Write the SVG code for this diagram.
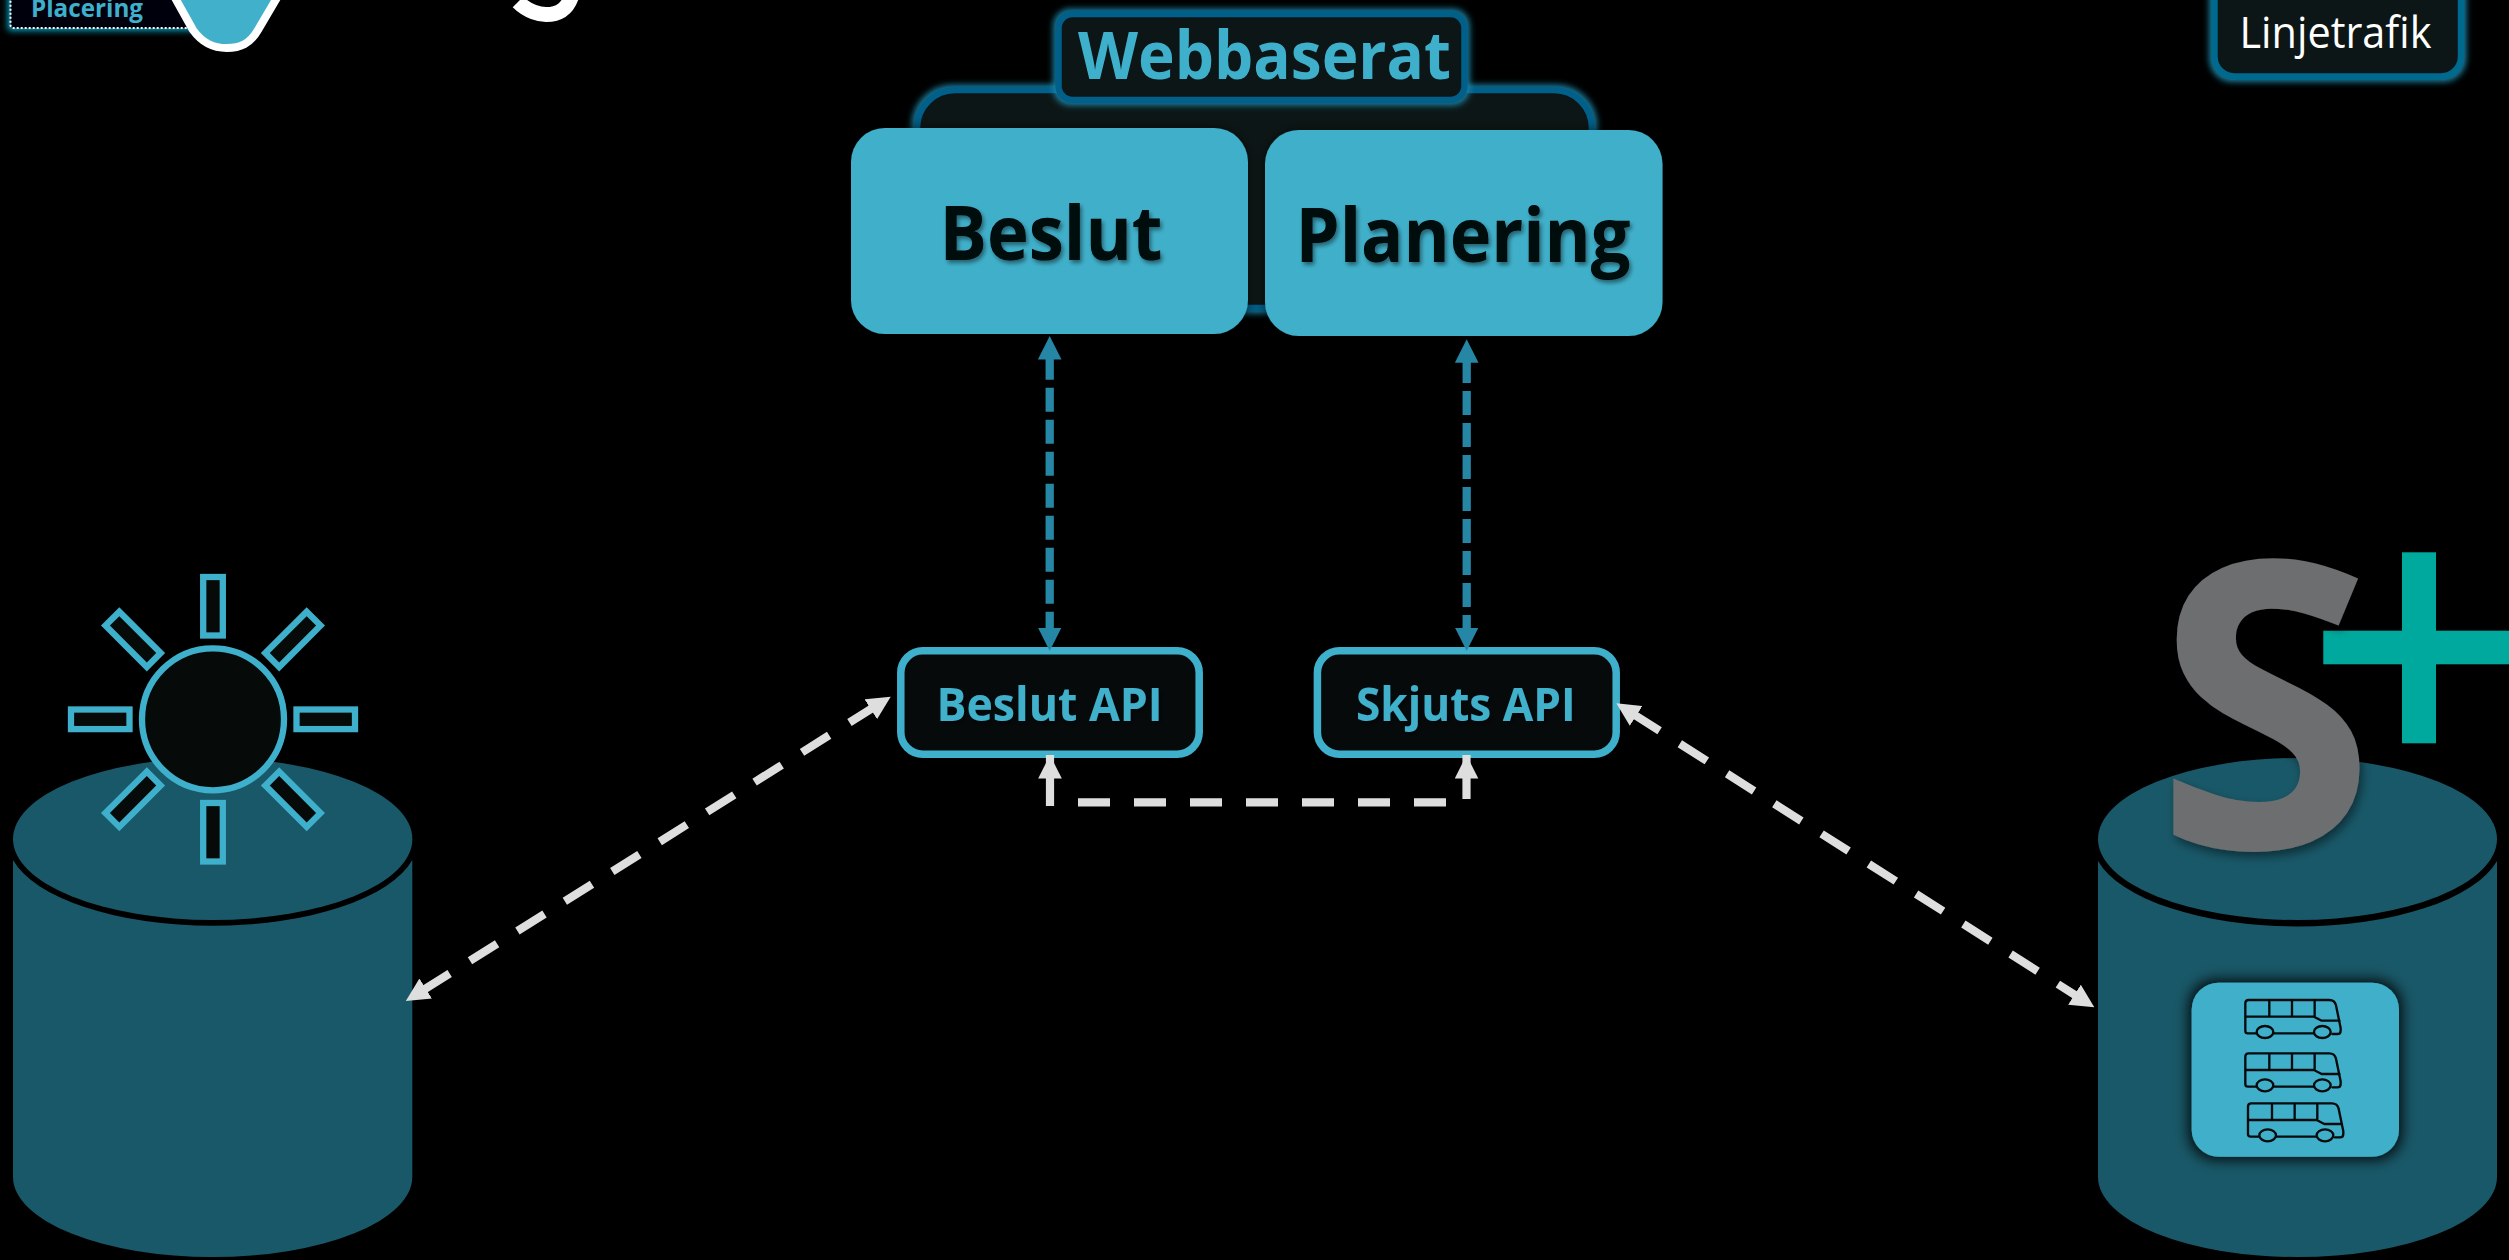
<svg xmlns="http://www.w3.org/2000/svg" width="2509" height="1260" viewBox="0 0 2509 1260">
<style>
text{font-family:"Open Sans","Noto Sans","Liberation Sans",sans-serif}
.b{font-weight:700}
.panel{fill:#3fb0ca}
.api{fill:#070a0b;stroke:#3fb0cb;stroke-width:7.5}
.apit{fill:#3fb0cb;font-size:47px;font-weight:700}
.frame{fill:#0e1218;stroke:#00618a;stroke-width:6.5;filter:url(#glow)}
.cyl{fill:#195868}
.ray{fill:#060a09;stroke:#3fb0cb;stroke-width:6.3}
.wd{fill:none;stroke:#dedede;stroke-width:8.200;stroke-dasharray:32 24}
.bd{fill:none;stroke:#2686a5;stroke-width:8.3;stroke-dasharray:24 8;stroke-dashoffset:26.3}
.st{fill:none;stroke:#dedede;stroke-width:8.200}
.bus{fill:none;stroke:#050a0c;stroke-width:7;stroke-linejoin:round;stroke-linecap:round}
</style>
<defs>
<filter id="glow" x="-10%" y="-30%" width="120%" height="160%">
<feMorphology in="SourceAlpha" operator="dilate" radius="2" result="d"/>
<feGaussianBlur in="d" stdDeviation="3" result="bl"/>
<feFlood flood-color="#1d86a8" flood-opacity=".95"/>
<feComposite in2="bl" operator="in" result="g"/>
<feMerge><feMergeNode in="g"/><feMergeNode in="SourceGraphic"/></feMerge>
</filter>
<filter id="glow2" x="-15%" y="-40%" width="130%" height="180%">
<feMorphology in="SourceAlpha" operator="dilate" radius="3" result="d"/>
<feGaussianBlur in="d" stdDeviation="3" result="bl"/>
<feFlood flood-color="#0c97b3" flood-opacity="1"/>
<feComposite in2="bl" operator="in" result="g"/>
<feMerge><feMergeNode in="g"/><feMergeNode in="SourceGraphic"/></feMerge>
</filter>
<filter id="ts" x="-10%" y="-20%" width="120%" height="150%"><feDropShadow dx="2" dy="3" stdDeviation="2" flood-color="#000" flood-opacity=".45"/></filter>
<filter id="ts2" x="-20%" y="-20%" width="140%" height="140%"><feDropShadow dx="3" dy="5" stdDeviation="5" flood-color="#000" flood-opacity=".45"/></filter>
<filter id="pshadow" x="-20%" y="-20%" width="140%" height="140%">
<feMorphology in="SourceAlpha" operator="dilate" radius="3" result="d"/>
<feGaussianBlur in="d" stdDeviation="7" result="bl"/>
<feFlood flood-color="#000" flood-opacity=".9"/>
<feComposite in2="bl" operator="in" result="g"/>
<feMerge><feMergeNode in="g"/><feMergeNode in="SourceGraphic"/></feMerge>
</filter>
<filter id="pnl" x="-10%" y="-10%" width="120%" height="120%"><feDropShadow dx="0" dy="0" stdDeviation="6" flood-color="#000" flood-opacity=".6"/></filter>
<marker id="hw" markerUnits="userSpaceOnUse" markerWidth="24" markerHeight="24" refX="23.5" refY="12" orient="auto-start-reverse"><polygon points="0,.2 23.5,12 0,23.8" fill="#dedede"/></marker>
<marker id="hb" markerUnits="userSpaceOnUse" markerWidth="24" markerHeight="24" refX="9.5" refY="12" orient="auto-start-reverse"><polygon points="0,.2 23.5,12 0,23.8" fill="#2686a5"/></marker>
<g id="busicon">
<path d="M258 220H234Q226 220 226 212V130Q226 120 236 120H478Q494 120 498 136L512 204V212Q512 222 502 222H487"/>
<path d="M312 220H430"/>
<ellipse cx="285" cy="216" rx="25" ry="18"/>
<ellipse cx="457" cy="216" rx="25" ry="18"/>
<path d="M228 170H432L455 182H508M298 122V170M366 122V170M434 122V170"/>
</g>
</defs>
<rect width="2509" height="1260" fill="#000"/>

<g id="placering">
<rect x="10.5" y="-30" width="190" height="58" rx="3" fill="#020608" filter="url(#glow2)"/>
<rect x="10.5" y="-30" width="190" height="58" rx="3" fill="none" stroke="#fff" stroke-width="2" stroke-dasharray="2 2"/>
<text x="31" y="17" font-size="25" font-weight="700" fill="#3fb0cb" textLength="112" lengthAdjust="spacingAndGlyphs">Placering</text>
</g>
<g id="pin">
<path d="M174 -4L193 30C203 44 214 48 226.7 48C240 48 250 44 258 30L278 -4Z" fill="#41b0ca" stroke="#fff" stroke-width="8"/>
</g>
<g id="title-fragment">
<path d="M518 2C528 12 540 14.5 546 14.5C560 14.5 568 8 572 -5" fill="none" stroke="#fff" stroke-width="15"/>
</g>
<g id="linjetrafik">
<rect class="frame" x="2214.5" y="-30" width="246.500" height="106.500" rx="20" style="stroke:#006a8e"/>
<text x="2239.500" y="48.300" font-size="43" fill="#fff" textLength="192" lengthAdjust="spacingAndGlyphs">Linjetrafik</text>
</g>

<g id="webbaserat-frame">
<rect class="frame" x="917" y="90" width="675" height="218" rx="38"/>
</g>
<g id="webbaserat">
<rect class="frame" x="1058.500" y="14" width="406" height="86" rx="14"/>
<text x="1078" y="79" class="b" font-size="67" fill="#3fb0cb" textLength="373" lengthAdjust="spacingAndGlyphs">Webbaserat</text>
</g>
<g id="beslut">
<rect class="panel" x="851" y="128" width="397" height="206" rx="34" filter="url(#pnl)"/>
<text x="939.500" y="260" class="b" font-size="76" fill="#050708" filter="url(#ts)" textLength="223" lengthAdjust="spacingAndGlyphs">Beslut</text>
</g>
<g id="planering">
<rect class="panel" x="1265" y="130" width="397.500" height="206" rx="34" filter="url(#pnl)"/>
<text x="1295.500" y="262" class="b" font-size="76" fill="#050708" filter="url(#ts)" textLength="335" lengthAdjust="spacingAndGlyphs">Planering</text>
</g>
<g id="beslut-api">
<rect class="api" x="900.800" y="650.800" width="298.400" height="103.400" rx="22"/>
<text class="apit" x="936.500" y="720.700" filter="url(#ts)" textLength="226" lengthAdjust="spacingAndGlyphs">Beslut API</text>
</g>
<g id="skjuts-api">
<rect class="api" x="1317.400" y="650.800" width="298.800" height="103.400" rx="22"/>
<text class="apit" x="1356" y="720.700" filter="url(#ts)" textLength="219.500" lengthAdjust="spacingAndGlyphs">Skjuts API</text>
</g>

<g id="db-left">
<path class="cyl" d="M13 860A205 85 0 0 0 412.300 860V1177A199.650 80 0 0 1 13 1177Z"/>
<ellipse class="cyl" cx="212.700" cy="839" rx="199.700" ry="81"/>
</g>
<g id="sun">
<g id="rays">
<rect class="ray" x="203.200" y="577" width="19.600" height="58.500"/>
<rect class="ray" x="203.200" y="803" width="19.600" height="58.500"/>
<rect class="ray" x="71" y="709.500" width="58.500" height="19.600"/>
<rect class="ray" x="296.500" y="709.500" width="58.500" height="19.600"/>
<rect class="ray" x="203.200" y="577" width="19.600" height="58.500" transform="rotate(45 213 719.300)"/>
<rect class="ray" x="203.200" y="577" width="19.600" height="58.500" transform="rotate(135 213 719.300)"/>
<rect class="ray" x="203.200" y="577" width="19.600" height="58.500" transform="rotate(225 213 719.300)"/>
<rect class="ray" x="203.200" y="577" width="19.600" height="58.500" transform="rotate(315 213 719.300)"/>
</g>
<circle cx="213" cy="719.300" r="71" fill="#060a09" stroke="#3fb0cb" stroke-width="6.300"/>
</g>

<g id="db-right">
<path class="cyl" d="M2098 861A205 85 0 0 0 2497 861V1177A199.500 80 0 0 1 2098 1177Z"/>
<ellipse class="cyl" cx="2297.500" cy="839" rx="199.500" ry="81"/>
</g>
<g id="splus">
<rect x="2402" y="552.300" width="34" height="191" fill="#00a99d"/>
<rect x="2323.300" y="630.700" width="186" height="33.600" fill="#00a99d"/>
<text x="2155" y="848" font-size="400" font-weight="700" fill="#6d6e70" filter="url(#ts2)">S</text>
</g>
<g id="buses">
<rect class="panel" x="2191.700" y="982.700" width="207.300" height="174" rx="27" filter="url(#pshadow)"/>
<g class="bus" transform="translate(2170 960) scale(.3333)">
<use href="#busicon"/>
<use href="#busicon" y="160"/>
<use href="#busicon" x="8" y="310"/>
</g>
</g>

<g id="connectors">
<line class="bd" x1="1049.700" y1="350" x2="1049.700" y2="637" marker-start="url(#hb)" marker-end="url(#hb)"/>
<line class="bd" x1="1466.700" y1="353.300" x2="1466.700" y2="637" marker-start="url(#hb)" marker-end="url(#hb)"/>
<line class="wd" x1="890.700" y1="696.700" x2="405.800" y2="1001" style="stroke-dashoffset:39.3" marker-start="url(#hw)" marker-end="url(#hw)"/>
<line class="wd" x1="1616.300" y1="703.300" x2="2094.300" y2="1007.300" style="stroke-dashoffset:36.7" marker-start="url(#hw)" marker-end="url(#hw)"/>
<line class="wd" x1="1446" y1="802.300" x2="1078" y2="802.300"/>
<line class="st" x1="1050" y1="806" x2="1050" y2="755" marker-end="url(#hw)"/>
<line class="st" x1="1466.500" y1="799" x2="1466.500" y2="755" marker-end="url(#hw)"/>
</g>
</svg>
